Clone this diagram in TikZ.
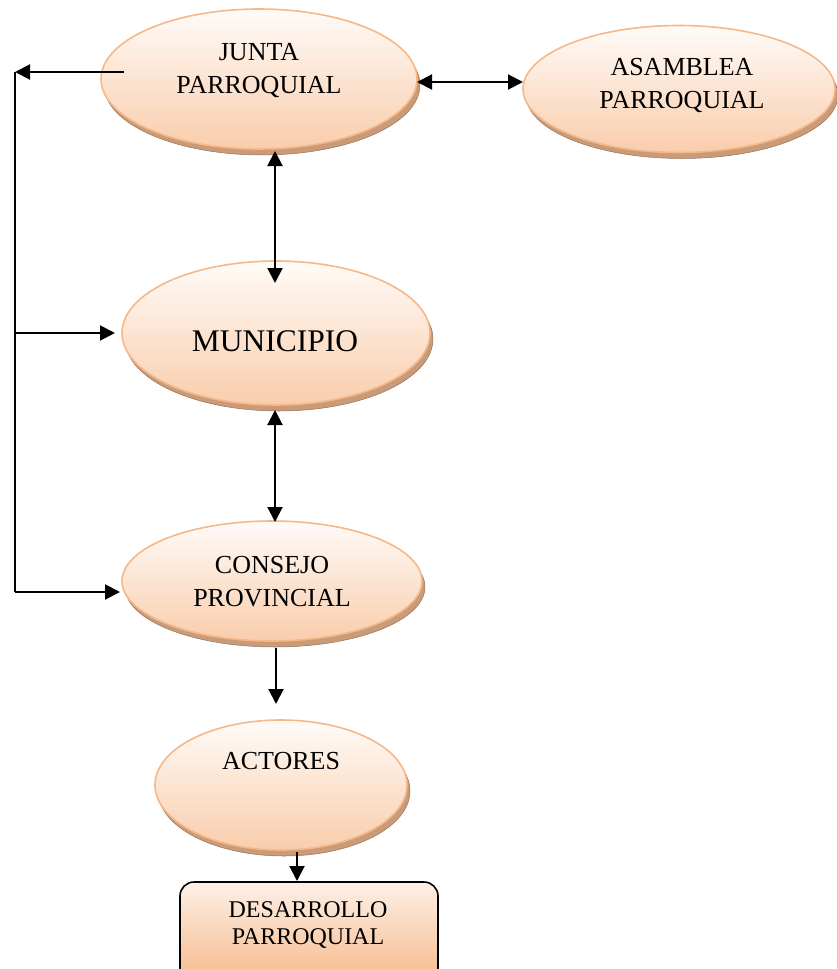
\documentclass[tikz,border=0pt]{standalone}
\usepackage{fontspec}
\setmainfont{Liberation Serif}
\usetikzlibrary{arrows.meta,shapes.geometric,shadows}

\definecolor{ovaltop}{HTML}{FFFBF8}
\definecolor{ovalbot}{HTML}{F9CDAC}
\definecolor{ovalline}{HTML}{F6B888}
\definecolor{ovalshadow}{HTML}{C99B78}
\definecolor{boxtop}{HTML}{FDF0E7}
\definecolor{boxbot}{HTML}{F7BA8C}

\tikzset{
  oval/.style={ellipse, draw=ovalline, line width=1.6pt,
    top color=ovaltop, bottom color=ovalbot, inner sep=0pt,
    general shadow={shadow xshift=3pt, shadow yshift=-6pt,
      fill=ovalshadow, draw=ovalshadow!75!black, line width=0.5pt}},
  goalbox/.style={rectangle, rounded corners=14pt, draw=black, line width=1.6pt,
    top color=boxtop, bottom color=boxbot, inner sep=0pt},
  label26/.style={align=center, font=\fontsize{26}{33}\selectfont, inner sep=0pt},
  label24/.style={align=center, font=\fontsize{24}{27}\selectfont, inner sep=0pt},
  label32/.style={align=center, font=\fontsize{31.5}{36}\selectfont, inner sep=0pt},
  link/.style={line width=2pt, draw=black},
  onearrow/.style={link, -{Triangle[length=15pt,width=15pt]}},
  twoarrow/.style={link, {Triangle[length=15pt,width=15pt]}-{Triangle[length=15pt,width=15pt]}}
}

\begin{document}
\begin{tikzpicture}[x=1pt,y=-1pt]
\useasboundingbox (0,0) rectangle (836,969);

% organisations
\node[oval, minimum width=316, minimum height=140] (junta) at (259,79) {};
\node[oval, minimum width=312, minimum height=127] (asam) at (679,89) {};
\node[oval, minimum width=308, minimum height=144] (muni) at (276,333) {};
\node[oval, minimum width=300, minimum height=120] (cons) at (272,581) {};
\node[oval, minimum width=252, minimum height=130] (act) at (281,785) {};
\node[goalbox, minimum width=258, minimum height=100] (desa) at (309,932) {};

% labels
\node[label26] (tjunta) at (259,71) {JUNTA\\PARROQUIAL};
\node[label26] (tasam) at (682,85) {ASAMBLEA\\PARROQUIAL};
\node[label32] (tmuni) at (275,341) {MUNICIPIO};
\node[label26] (tcons) at (272,582) {CONSEJO\\PROVINCIAL};
\node[label26] (tact) at (281,761) {ACTORES};
\node[label24] (tdesa) at (308,925) {DESARROLLO\\PARROQUIAL};

% connector end points
\coordinate (jtap) at (124,72);
\coordinate (bustop) at (15,72);
\coordinate (busmid) at (15,333);
\coordinate (busbot) at (15,592);
\coordinate (munileft) at (115,333);
\coordinate (consleft) at (120,592);
\coordinate (jeast) at (417,82);
\coordinate (awest) at (523,82);
\coordinate (jbot) at (275,151);
\coordinate (mtop) at (275,283);
\coordinate (mbot) at (275,410);
\coordinate (ctop) at (275,522);
\coordinate (cbot) at (276,648);
\coordinate (atop) at (276,704);
\coordinate (abot) at (297,852);
\coordinate (dtop) at (297,881);

% left feedback bus
\draw[onearrow] (jtap) -- (bustop);
\draw[link] (bustop) -- (busbot);
\draw[onearrow] (busmid) -- (munileft);
\draw[onearrow] (busbot) -- (consleft);

% main chain
\draw[twoarrow] (jeast) -- (awest);
\draw[twoarrow] (jbot) -- (mtop);
\draw[twoarrow] (mbot) -- (ctop);
\draw[onearrow] (cbot) -- (atop);
\draw[onearrow] (abot) -- (dtop);
\end{tikzpicture}
\end{document}
